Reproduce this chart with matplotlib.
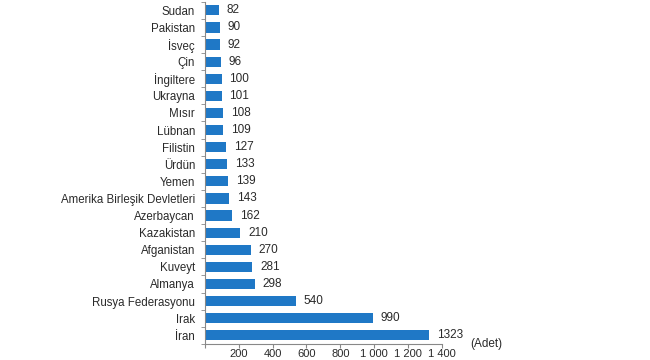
import matplotlib.pyplot as plt
import numpy as np

plt.rcParams['font.family'] = ['Liberation Sans', 'DejaVu Sans']

ulkeler = ['İran', 'Irak', 'Rusya Federasyonu', 'Almanya', 'Kuveyt', 'Afganistan',
           'Kazakistan', 'Azerbaycan', 'Amerika Birleşik Devletleri', 'Yemen',
           'Ürdün', 'Filistin', 'Lübnan', 'Mısır', 'Ukrayna', 'İngiltere',
           'Çin', 'İsveç', 'Pakistan', 'Sudan']
adet = [1323, 990, 540, 298, 281, 270, 210, 162, 143, 139,
        133, 127, 109, 108, 101, 100, 96, 92, 90, 82]
xticks = [0, 200, 400, 600, 800, 1000, 1200, 1400]
xlabels = ['', '200', '400', '600', '800', '1 000', '1 200', '1 400']

fig = plt.figure(figsize=(6.5, 3.6), dpi=100)
ax = fig.add_axes([0.315, 0.045, 0.365, 0.95])

y = np.arange(len(ulkeler))
ax.barh(y, adet, height=0.6, color='#1f78c6')
for yi, v in zip(y, adet):
    ax.text(v + 45, yi, str(v), va='center', ha='left', fontsize=8.5, color='#2a2a2a')

ax.set_xlim(0, 1400)
ax.set_ylim(-0.5, len(ulkeler) - 0.5)
ax.set_yticks(y)
ax.set_yticklabels(ulkeler, fontsize=8.3, color='#2a2a2a')
ax.set_yticks(np.arange(-0.5, len(ulkeler)), minor=True)
ax.tick_params(axis='y', which='major', length=0, pad=7)
ax.tick_params(axis='y', which='minor', length=3, color='#888888')
ax.set_xticks(xticks)
ax.set_xticklabels(xlabels, fontsize=8, color='#2a2a2a')
ax.tick_params(axis='x', length=3, color='#888888', pad=1)

for s in ['top', 'right']:
    ax.spines[s].set_visible(False)
for s in ['left', 'bottom']:
    ax.spines[s].set_color('#888888')
    ax.spines[s].set_linewidth(0.8)

ax.text(1.12, 0.0, '(Adet)', transform=ax.transAxes, fontsize=8.5, color='#2a2a2a',
        ha='left', va='center')

fig.savefig('out.png', dpi=100)
